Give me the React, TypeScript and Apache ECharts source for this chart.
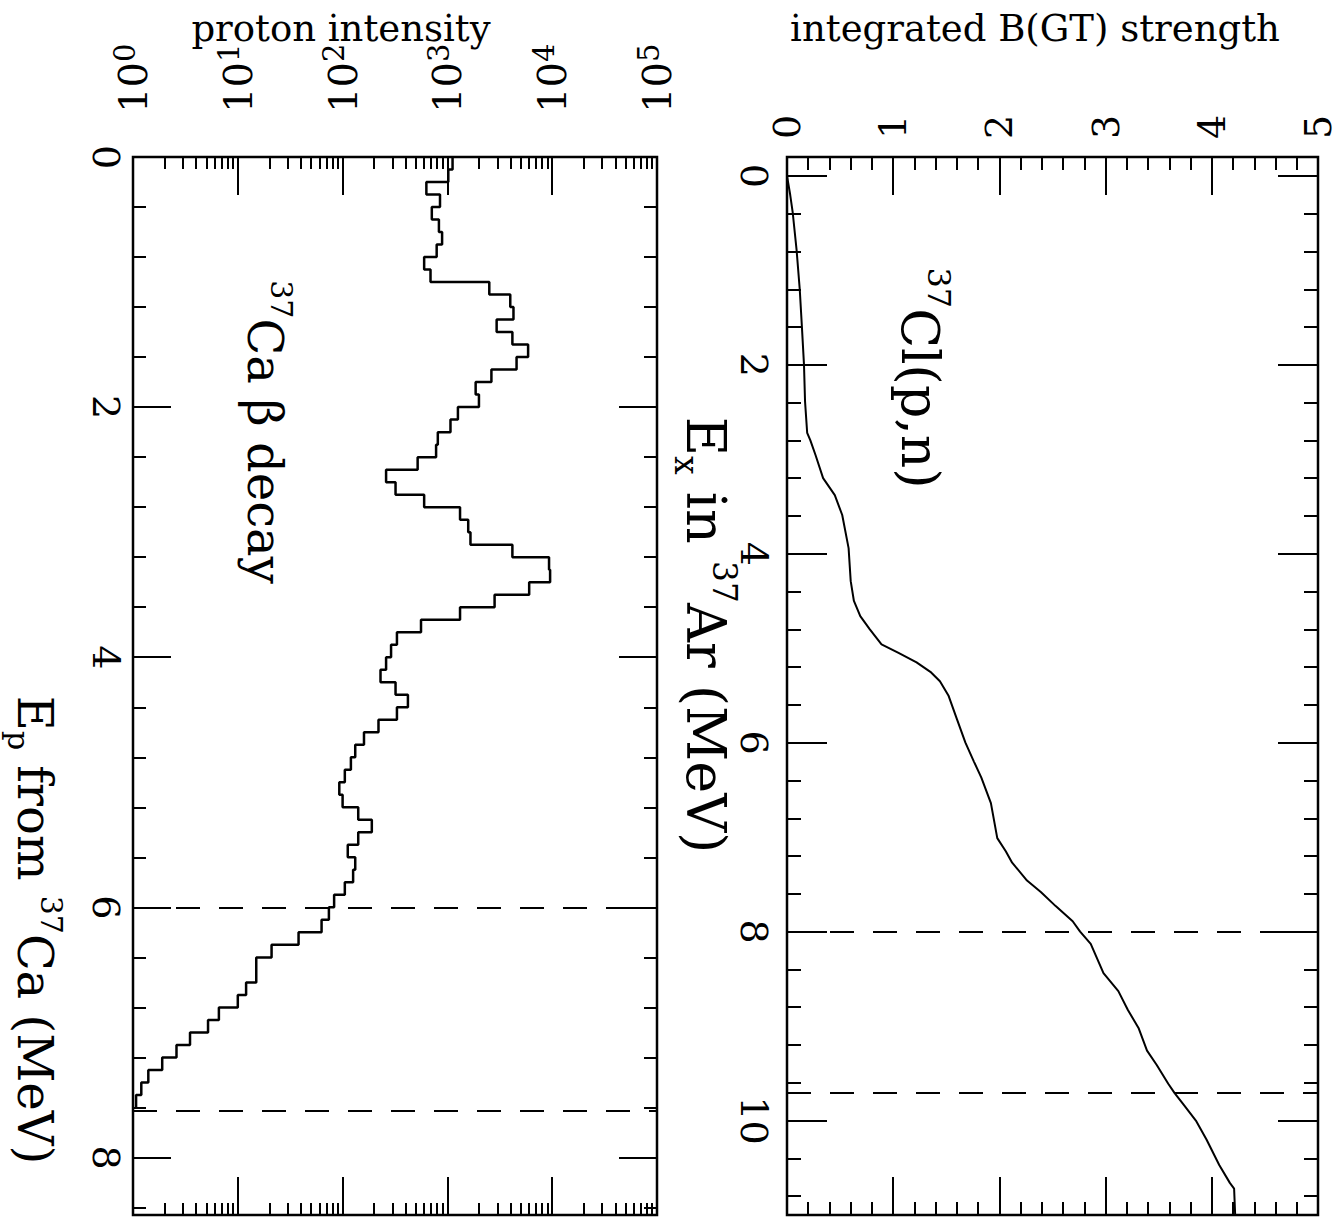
import React, { useEffect, useRef } from "react";
import * as echarts from "echarts";

const SERIF = "'DejaVu Serif', 'Liberation Serif', serif";

// ---------- 37Ca beta-delayed proton spectrum (histogram) ----------
const epBinEdges = [
  0.0, 0.1, 0.2, 0.3, 0.4, 0.5, 0.6, 0.7, 0.8, 0.9, 1.0, 1.1, 1.2, 1.3, 1.4, 1.5, 1.6, 1.7, 1.8, 1.9,
  2.0, 2.1, 2.2, 2.3, 2.4, 2.5, 2.6, 2.7, 2.8, 2.9, 3.0, 3.1, 3.2, 3.3, 3.4, 3.5, 3.6, 3.7, 3.8, 3.9,
  4.0, 4.1, 4.2, 4.3, 4.4, 4.5, 4.6, 4.7, 4.8, 4.9, 5.0, 5.1, 5.2, 5.3, 5.4, 5.5, 5.6, 5.7, 5.8, 5.9,
  6.0, 6.1, 6.2, 6.3, 6.4, 6.5, 6.6, 6.7, 6.8, 6.9, 7.0, 7.1, 7.2, 7.3, 7.4, 7.5, 7.6,
];
const protonCounts = [
  1120, 1020, 630, 850, 710, 830, 890, 790, 600, 690,
  2510, 3980, 4270, 2950, 4170, 5890, 4570, 2630, 1860, 2000,
  1260, 1070, 810, 780, 520, 260, 320, 600, 1320, 1580,
  1660, 4170, 9330, 9550, 6030, 2820, 1320, 560, 330, 290,
  260, 230, 320, 420, 330, 220, 160, 132, 120, 105,
  93, 100, 141, 190, 141, 112, 132, 126, 105, 83,
  74, 63, 38, 21, 15, 15, 12, 10, 6.6, 5.2,
  3.5, 2.6, 1.9, 1.4, 1.2, 1.07,
];

// ---------- 37Cl(p,n): integrated B(GT) strength ----------
const exMeV = [
  0, 0.2, 0.39, 0.78, 1.2, 1.59, 2.0, 2.39, 2.72, 2.8, 2.96, 3.2, 3.38, 3.59, 3.94, 4.29, 4.5,
  4.66, 4.8, 4.96, 5.05, 5.15, 5.25, 5.35, 5.5, 5.75, 6.0, 6.2, 6.37, 6.64, 7.01, 7.15, 7.27,
  7.46, 7.58, 7.73, 7.89, 8.0, 8.13, 8.44, 8.63, 8.83, 9.02, 9.26, 9.41, 9.61, 9.71, 9.84,
  10.0, 10.2, 10.47, 10.66, 10.72, 11.0,
];
const bgtIntegrated = [
  0, 0.03, 0.054, 0.09, 0.12, 0.14, 0.16, 0.17, 0.19, 0.22, 0.27, 0.34, 0.45, 0.52, 0.58, 0.6, 0.63,
  0.69, 0.78, 0.89, 1.05, 1.22, 1.35, 1.44, 1.52, 1.6, 1.68, 1.76, 1.83, 1.92, 1.98, 2.06, 2.12,
  2.26, 2.39, 2.53, 2.69, 2.76, 2.86, 2.98, 3.12, 3.21, 3.31, 3.39, 3.48, 3.59, 3.65, 3.74,
  3.85, 3.95, 4.07, 4.17, 4.21, 4.22,
];

// ---------- axes ----------
const intensityDecadeExponents = [0, 1, 2, 3, 4, 5];
const intensityMinorMultipliers = [2, 3, 4, 5, 6, 7, 8, 9];
const epMajorTicks = [0, 2, 4, 6, 8];
const epMinorTicks = [0.4, 0.8, 1.2, 1.6, 2.4, 2.8, 3.2, 3.6, 4.4, 4.8, 5.2, 5.6, 6.4, 6.8, 7.2, 7.6, 8.4];
const exMajorTicks = [0, 2, 4, 6, 8, 10];
const exMinorTicks = [
  0.4, 0.8, 1.2, 1.6, 2.4, 2.8, 3.2, 3.6, 4.4, 4.8, 5.2, 5.6, 6.4, 6.8, 7.2, 7.6, 8.4, 8.8, 9.2, 9.6, 10.4, 10.8,
];
const bgtMajorTicks = [0, 1, 2, 3, 4, 5];
const bgtMinorTicks = [
  0.2, 0.4, 0.6, 0.8, 1.2, 1.4, 1.6, 1.8, 2.2, 2.4, 2.6, 2.8, 3.2, 3.4, 3.6, 3.8, 4.2, 4.4, 4.6, 4.8,
];
const EP_RANGE = [0, 8.46];
const EX_RANGE = [-0.2, 11.0];
const BGT_RANGE = [0, 5];
const epDashed = [6.0, 7.63];
const exDashed = [8.0, 9.71];

export default function App() {
  const ref = useRef<HTMLDivElement>(null);

  useEffect(() => {
    if (!ref.current) return;
    const chart = echarts.init(ref.current, undefined, { renderer: "svg" });

    const histPoints: number[][] = [];
    protonCounts.forEach((c, i) => {
      histPoints.push([c, epBinEdges[i]]);
      histPoints.push([c, epBinEdges[i + 1]]);
    });
    const bgtPoints = exMeV.map((e, i) => [bgtIntegrated[i], e]);

    const logMin = intensityDecadeExponents[0];
    const logMax = intensityDecadeExponents[intensityDecadeExponents.length - 1];
    const intensityMinorLog: number[] = [];
    intensityDecadeExponents.slice(0, -1).forEach((e) => {
      intensityMinorMultipliers.forEach((m) => intensityMinorLog.push(e + Math.log10(m)));
    });

    const tickStyle = { color: "#000", width: 2 };
    const tickRich = {
      b: { fontSize: 40, fontFamily: SERIF, color: "#000", lineHeight: 46 },
      s: { fontSize: 29, fontFamily: SERIF, color: "#000", lineHeight: 29, verticalAlign: "top" },
    };
    const plainLabel = { fontSize: 38, fontFamily: SERIF, color: "#000" };

    const tickAxis = (extra: any, ticks: number[], len: number) => ({
      type: "value",
      axisLine: { show: false, onZero: false },
      splitLine: { show: false },
      axisLabel: { show: false },
      axisTick: { show: true, inside: true, length: len, lineStyle: tickStyle, customValues: ticks, interval: 0 },
      ...extra,
    });

    const xAxis: any[] = [
      // 0: data axis for the proton spectrum (log)
      {
        type: "log",
        gridIndex: 0,
        min: Math.pow(10, logMin),
        max: Math.pow(10, logMax),
        logBase: 10,
        show: false,
        axisLine: { show: false, onZero: false },
      },
      // 1: top decades with labels
      {
        ...tickAxis({ gridIndex: 0, position: "top", min: logMin, max: logMax }, intensityDecadeExponents, 38),
        axisLabel: {
          show: true,
          rotate: -90,
          margin: 44,
          customValues: intensityDecadeExponents,
          formatter: (v: number) => `{b|10}{s|${Math.round(v)}}`,
          rich: tickRich,
        },
      },
      // 2: top minor log ticks
      tickAxis({ gridIndex: 0, position: "top", min: logMin, max: logMax }, intensityMinorLog, 12),
      // 3,4: bottom
      tickAxis({ gridIndex: 0, position: "bottom", min: logMin, max: logMax }, intensityDecadeExponents, 38),
      tickAxis({ gridIndex: 0, position: "bottom", min: logMin, max: logMax }, intensityMinorLog, 12),
      // 5: B(GT) data axis, top, with labels
      {
        ...tickAxis({ gridIndex: 1, position: "top", min: BGT_RANGE[0], max: BGT_RANGE[1] }, bgtMajorTicks, 38),
        axisLabel: { show: true, rotate: -90, margin: 18, customValues: bgtMajorTicks, ...plainLabel },
      },
      tickAxis({ gridIndex: 1, position: "top", min: BGT_RANGE[0], max: BGT_RANGE[1] }, bgtMinorTicks, 13),
      // 7,8: bottom
      tickAxis({ gridIndex: 1, position: "bottom", min: BGT_RANGE[0], max: BGT_RANGE[1] }, bgtMajorTicks, 38),
      tickAxis({ gridIndex: 1, position: "bottom", min: BGT_RANGE[0], max: BGT_RANGE[1] }, bgtMinorTicks, 13),
    ];

    const yAxis: any[] = [
      // 0: Ep data axis
      {
        ...tickAxis({ gridIndex: 0, position: "left", inverse: true, min: EP_RANGE[0], max: EP_RANGE[1] }, epMajorTicks, 38),
        axisLabel: { show: true, rotate: -90, margin: 8, customValues: epMajorTicks, ...plainLabel },
      },
      tickAxis({ gridIndex: 0, position: "left", inverse: true, min: EP_RANGE[0], max: EP_RANGE[1] }, epMinorTicks, 13),
      tickAxis({ gridIndex: 0, position: "right", inverse: true, min: EP_RANGE[0], max: EP_RANGE[1] }, epMajorTicks, 38),
      tickAxis({ gridIndex: 0, position: "right", inverse: true, min: EP_RANGE[0], max: EP_RANGE[1] }, epMinorTicks, 13),
      // 4: Ex data axis
      {
        ...tickAxis({ gridIndex: 1, position: "left", inverse: true, min: EX_RANGE[0], max: EX_RANGE[1] }, exMajorTicks, 40),
        axisLabel: { show: true, rotate: -90, margin: 14, customValues: exMajorTicks, ...plainLabel },
      },
      tickAxis({ gridIndex: 1, position: "left", inverse: true, min: EX_RANGE[0], max: EX_RANGE[1] }, exMinorTicks, 14),
      tickAxis({ gridIndex: 1, position: "right", inverse: true, min: EX_RANGE[0], max: EX_RANGE[1] }, exMajorTicks, 40),
      tickAxis({ gridIndex: 1, position: "right", inverse: true, min: EX_RANGE[0], max: EX_RANGE[1] }, exMinorTicks, 14),
    ];

    const dashStyle = { color: "#000", width: 2, type: [24, 19] };
    const rot = -Math.PI / 2;
    const mkRich = (size: number) => ({
      m: { fontSize: size, fontFamily: SERIF, color: "#000", lineHeight: Math.round(size * 1.32) },
      sub: { fontSize: Math.round(size * 0.62), fontFamily: SERIF, color: "#000", lineHeight: Math.round(size * 0.62), verticalAlign: "bottom" },
      sup: { fontSize: Math.round(size * 0.62), fontFamily: SERIF, color: "#000", lineHeight: Math.round(size * 0.62), verticalAlign: "top" },
    });
    const rotText = (x: number, y: number, text: string, size: number) => ({
      type: "text",
      x,
      y,
      rotation: rot,
      style: { text, rich: mkRich(size), align: "center", verticalAlign: "middle" },
    });

    chart.setOption({
      animation: false,
      backgroundColor: "#fff",
      grid: [
        { left: 133, top: 157, width: 524, height: 1058, show: true, borderColor: "#000", borderWidth: 2.5, backgroundColor: "transparent" },
        { left: 787, top: 157, width: 531, height: 1058, show: true, borderColor: "#000", borderWidth: 2.5, backgroundColor: "transparent" },
      ],
      xAxis,
      yAxis,
      series: [
        {
          type: "line",
          xAxisIndex: 0,
          yAxisIndex: 0,
          data: histPoints,
          symbol: "none",
          lineStyle: { color: "#000", width: 2.5 },
          markLine: {
            silent: true,
            symbol: ["none", "none"],
            label: { show: false },
            lineStyle: dashStyle,
            data: epDashed.map((v) => ({ yAxis: v })),
          },
        },
        {
          type: "line",
          xAxisIndex: 5,
          yAxisIndex: 4,
          data: bgtPoints,
          symbol: "none",
          lineStyle: { color: "#000", width: 2 },
          markLine: {
            silent: true,
            symbol: ["none", "none"],
            label: { show: false },
            lineStyle: dashStyle,
            data: exDashed.map((v) => ({ yAxis: v })),
          },
        },
      ],
      graphic: [
        {
          type: "text",
          x: 341,
          y: 28,
          style: { text: "proton intensity", fontSize: 37, fontFamily: SERIF, fill: "#000", align: "center", verticalAlign: "middle" },
        },
        {
          type: "text",
          x: 1035,
          y: 28,
          style: { text: "integrated B(GT) strength", fontSize: 37, fontFamily: SERIF, fill: "#000", align: "center", verticalAlign: "middle" },
        },
        rotText(705, 635, "{m|E}{sub|x}{m| in }{sup|37}{m|Ar (MeV)}", 54),
        rotText(35, 930, "{m|E}{sub|p}{m| from }{sup|37}{m|Ca (MeV)}", 48),
        rotText(265, 432, "{sup|37}{m|Ca β decay}", 48),
        rotText(920, 378, "{sup|37}{m|Cl(p,n)}", 52),
      ],
    });

    return () => chart.dispose();
  }, []);

  return (
    <div
      ref={ref}
      style={{ position: "fixed", left: 0, top: 0, width: 1341, height: 1223, background: "#fff" }}
    />
  );
}
